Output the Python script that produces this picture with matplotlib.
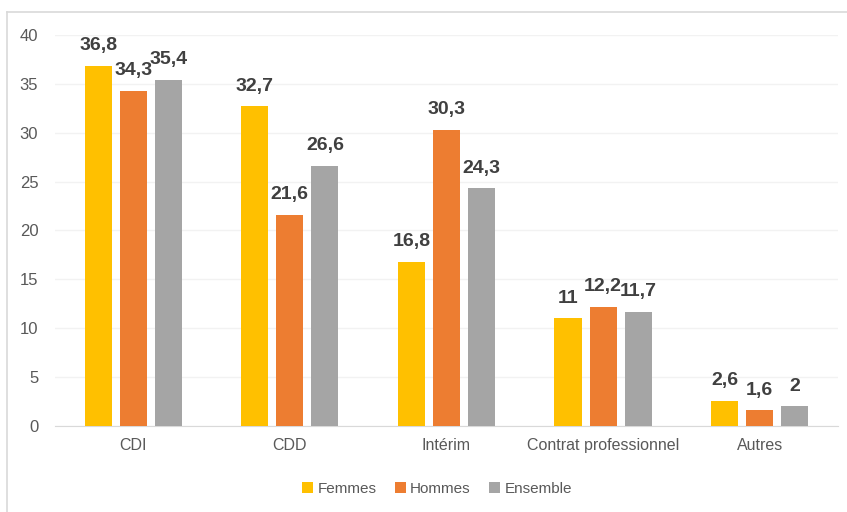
import numpy as np
import matplotlib.pyplot as plt
from matplotlib.lines import Line2D

categories = ['CDI', 'CDD', 'Intérim', 'Contrat professionnel', 'Autres']
femmes = [36.8, 32.7, 16.8, 11, 2.6]
hommes = [34.3, 21.6, 30.3, 12.2, 1.6]
ensemble = [35.4, 26.6, 24.3, 11.7, 2]
series_names = ['Femmes', 'Hommes', 'Ensemble']
colors = ['#FFC000', '#ED7D31', '#A5A5A5']

plt.rcParams['font.family'] = ['Liberation Sans', 'DejaVu Sans']

fig = plt.figure(figsize=(8.47, 5.12), dpi=100)
ax = fig.add_axes([0.0649, 0.168, 0.9244, 0.7637])

x = np.arange(len(categories))
width = 0.173
step = 0.224

for i, (vals, name, col) in enumerate(zip([femmes, hommes, ensemble], series_names, colors)):
    pos = x + (i - 1) * step
    ax.bar(pos, vals, width, color=col, label=name, zorder=3)
    for p, v in zip(pos, vals):
        txt = ('%g' % v).replace('.', ',')
        ax.annotate(txt, (p, v), xytext=(0, 8.5), textcoords='offset points',
                    ha='center', va='bottom', fontsize=14, fontweight='bold',
                    color='#404040')

ax.set_xlim(-0.5, len(categories) - 0.5)
ax.set_ylim(0, 40)
ax.set_yticks(range(0, 41, 5))
ax.set_xticks(x)
ax.set_xticklabels(categories)
ax.yaxis.grid(True, color='#F2F2F2', linewidth=1, zorder=0)
ax.tick_params(axis='y', length=0, labelsize=12, labelcolor='#595959', pad=12)
ax.tick_params(axis='x', length=0, labelsize=11.5, labelcolor='#595959', pad=9)
for s in ['top', 'right', 'left']:
    ax.spines[s].set_visible(False)
ax.spines['bottom'].set_color('#D9D9D9')

leg = fig.legend(loc='center', bbox_to_anchor=(0.516, 0.045), ncol=3, frameon=False,
                 fontsize=11, handlelength=0.7, handleheight=0.7, handletextpad=0.3,
                 columnspacing=1.2)
for t in leg.get_texts():
    t.set_color('#595959')

# outer chart border (top and left edges)
fig.add_artist(Line2D([7 / 847, 1], [1 - 12 / 512, 1 - 12 / 512], color='#D9D9D9', lw=1.2,
                      transform=fig.transFigure))
fig.add_artist(Line2D([7 / 847, 7 / 847], [0, 1 - 12 / 512], color='#D9D9D9', lw=1.2,
                      transform=fig.transFigure))

fig.savefig('out.png', dpi=100)
